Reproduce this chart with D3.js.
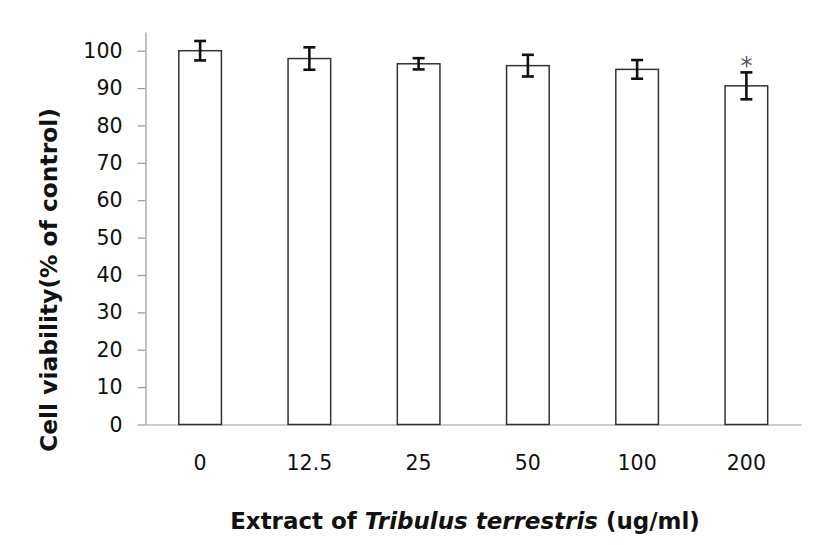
<!DOCTYPE html>
<html><head><meta charset="utf-8">
<script src="https://cdn.jsdelivr.net/npm/d3@7"></script>
<style>body{margin:0;background:#fff}svg{display:block}</style>
</head><body>
<svg id="c" width="827" height="545"></svg>
<script>
const categories = ["0", "12.5", "25", "50", "100", "200"];
const viability = [100, 97.9, 96.5, 96.0, 95.0, 90.6];
const errors = [2.6, 3.0, 1.5, 2.9, 2.5, 3.6];
const significant = [false, false, false, false, false, true];
const yTicks = [0, 10, 20, 30, 40, 50, 60, 70, 80, 90, 100];

const svg = d3.select("#c");
const font = "'DejaVu Sans', 'Noto Sans', sans-serif";
const x = d3.scaleBand().domain(categories).range([145.5, 801]).paddingInner(0.61).paddingOuter(0.305);
const y = d3.scaleLinear().domain([0, 105]).range([424.5, 32]);

// y axis
const ya = svg.append("g").attr("transform", "translate(145.5,0)")
  .call(d3.axisLeft(y).tickValues(yTicks).tickSize(8).tickPadding(15).tickSizeOuter(0));
ya.select(".domain").attr("stroke", "#999").attr("stroke-width", 1.2);
ya.selectAll(".tick line").attr("stroke", "#999").attr("stroke-width", 1.2);
ya.selectAll(".tick text").attr("font-family", font).attr("font-size", 20.5).attr("fill", "#111");

// x axis
const xa = svg.append("g").attr("transform", "translate(0,424.5)")
  .call(d3.axisBottom(x).tickSize(0).tickPadding(31).tickSizeOuter(0));
xa.select(".domain").attr("stroke", "#999").attr("stroke-width", 1.2);
xa.selectAll(".tick text").attr("font-family", font).attr("font-size", 20.5).attr("fill", "#111");

// bars
svg.append("g").selectAll("rect").data(categories).join("rect")
  .attr("x", d => x(d)).attr("width", x.bandwidth())
  .attr("y", (d, i) => y(viability[i])).attr("height", (d, i) => y(0) - y(viability[i]))
  .attr("fill", "#fff").attr("stroke", "#333").attr("stroke-width", 1.5);

// error bars
const eb = svg.append("g").attr("stroke", "#111").attr("stroke-width", 2.6);
categories.forEach((c, i) => {
  const cx = x(c) + x.bandwidth() / 2;
  const top = y(viability[i] + errors[i]), bot = y(viability[i] - errors[i]);
  eb.append("line").attr("x1", cx).attr("x2", cx).attr("y1", top).attr("y2", bot);
  eb.append("line").attr("x1", cx - 6).attr("x2", cx + 6).attr("y1", top).attr("y2", top);
  eb.append("line").attr("x1", cx - 6).attr("x2", cx + 6).attr("y1", bot).attr("y2", bot);
  if (significant[i]) {
    svg.append("text").attr("x", cx).attr("y", top + 2).attr("text-anchor", "middle")
      .attr("font-family", font).attr("font-size", 24).attr("fill", "#555").text("*");
  }
});

function fit(sel, target) {
  const n = sel.node();
  const w = n.getComputedTextLength();
  const fs = parseFloat(sel.attr("font-size"));
  sel.attr("font-size", fs * target / w);
}

// y title
const yt = svg.append("text").attr("transform", "translate(57,280) rotate(-90)")
  .attr("text-anchor", "middle").attr("font-family", font).attr("font-weight", "bold")
  .attr("font-size", 21).attr("fill", "#111").text("Cell viability(% of control)");
fit(yt, 344);

// x title
const xt = svg.append("text").attr("x", 465).attr("y", 529).attr("text-anchor", "middle")
  .attr("font-family", font).attr("font-weight", "bold").attr("font-size", 21).attr("fill", "#111");
xt.append("tspan").text("Extract of  ");
xt.append("tspan").attr("font-style", "italic").text("Tribulus terrestris");
xt.append("tspan").text(" (ug/ml)");
fit(xt, 470);
</script>
</body></html>
